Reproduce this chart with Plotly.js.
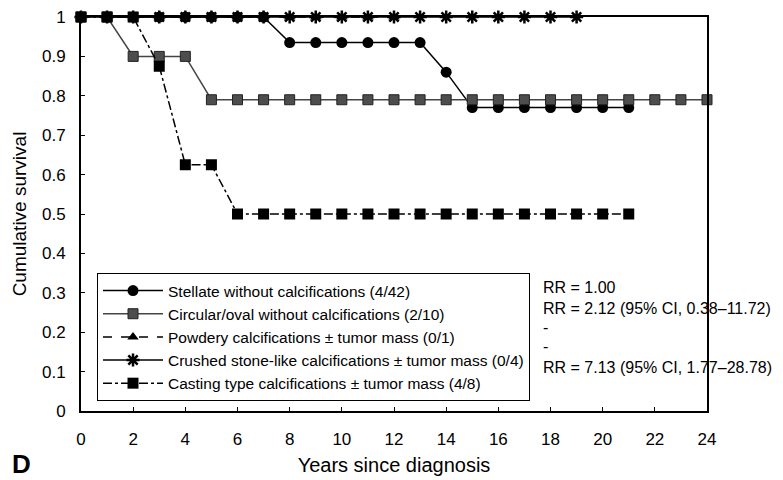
<!DOCTYPE html>
<html>
<head>
<meta charset="utf-8">
<script src="https://cdn.plot.ly/plotly-3.0.1.min.js"></script>
<style>html,body{margin:0;padding:0;background:#fff;}#chart{width:783px;height:480px;}</style>
</head>
<body>
<div id="chart"></div>
<script>
// ---- data ----
var seriesNames = [
  "Stellate without calcifications (4/42)",
  "Circular/oval without calcifications (2/10)",
  "Powdery calcifications \u00B1 tumor mass (0/1)",
  "Crushed stone-like calcifications \u00B1 tumor mass (0/4)",
  "Casting type calcifications \u00B1 tumor mass (4/8)"
];
var stellateYears = [0,1,2,3,4,5,6,7,8,9,10,11,12,13,14,15,16,17,18,19,20,21];
var stellateSurv  = [1,1,1,1,1,1,1,1,0.935,0.935,0.935,0.935,0.935,0.935,0.86,0.77,0.77,0.77,0.77,0.77,0.77,0.77];
var circularYears = [0,1,2,3,4,5,6,7,8,9,10,11,12,13,14,15,16,17,18,19,20,21,22,23,24];
var circularSurv  = [1,1,0.9,0.9,0.9,0.79,0.79,0.79,0.79,0.79,0.79,0.79,0.79,0.79,0.79,0.79,0.79,0.79,0.79,0.79,0.79,0.79,0.79,0.79,0.79];
var powderyYears  = [0,1,2,3,4,5,6,7,8,9,10,11,12];
var powderySurv   = [1,1,1,1,1,1,1,1,1,1,1,1,1];
var crushedYears  = [0,1,2,3,4,5,6,7,8,9,10,11,12,13,14,15,16,17,18,19];
var crushedSurv   = [1,1,1,1,1,1,1,1,1,1,1,1,1,1,1,1,1,1,1,1];
var castingYears  = [0,1,2,3,4,5,6,7,8,9,10,11,12,13,14,15,16,17,18,19,20,21];
var castingSurv   = [1,1,1,0.875,0.625,0.625,0.5,0.5,0.5,0.5,0.5,0.5,0.5,0.5,0.5,0.5,0.5,0.5,0.5,0.5,0.5,0.5];
var rrLabels = [
  "RR = 1.00",
  "RR = 2.12 (95% CI, 0.38\u201311.72)",
  "-",
  "-",
  "RR = 7.13 (95% CI, 1.77\u201328.78)"
];
var xTickVals = [0,2,4,6,8,10,12,14,16,18,20,22,24];
var yTickVals = [0,0.1,0.2,0.3,0.4,0.5,0.6,0.7,0.8,0.9,1];
var yTickText = ["0","0.1","0.2","0.3","0.4","0.5","0.6","0.7","0.8","0.9","1"];

// ---- traces ----
var FONT = "Liberation Sans, Arial, Helvetica, sans-serif";
var traces = [
  {x: powderyYears, y: powderySurv, name: seriesNames[2], legendrank: 3, mode: "lines+markers",
   line: {color: "#000", width: 1.5, dash: "dash"},
   marker: {symbol: "triangle-up", size: 10, color: "#000"}, cliponaxis: false},
  {x: stellateYears, y: stellateSurv, name: seriesNames[0], legendrank: 1, mode: "lines+markers",
   line: {color: "#000", width: 1.5},
   marker: {symbol: "circle", size: 11, color: "#000"}, cliponaxis: false},
  {x: crushedYears, y: crushedSurv, name: seriesNames[3], legendrank: 4, mode: "lines+markers",
   line: {color: "#000", width: 1.5},
   marker: {symbol: "asterisk-open", size: 11, color: "#000", line: {color: "#000", width: 2.5}}, cliponaxis: false},
  {x: circularYears, y: circularSurv, name: seriesNames[1], legendrank: 2, mode: "lines+markers",
   line: {color: "#444", width: 1.5},
   marker: {symbol: "square", size: 10, color: "#4d4d4d", line: {color: "#222", width: 1}}, cliponaxis: false},
  {x: castingYears, y: castingSurv, name: seriesNames[4], legendrank: 5, mode: "lines+markers",
   line: {color: "#000", width: 1.5, dash: "dashdot"},
   marker: {symbol: "square", size: 11, color: "#000"}, cliponaxis: false}
];

var rrY = [287, 308, 327, 346, 367];
var annotations = rrLabels.map(function (t, i) {
  return {text: t, xref: "paper", yref: "paper", x: (541 - 81) / 626, y: (411 - rrY[i]) / 394,
    xanchor: "left", yanchor: "middle", showarrow: false, font: {family: FONT, size: 16, color: "#000"}};
});
annotations.push({text: "<b>D</b>", xref: "paper", yref: "paper", x: (10 - 81) / 626, y: (411 - 464) / 394,
  xanchor: "left", yanchor: "middle", showarrow: false, font: {family: FONT, size: 26, color: "#000"}});

var layout = {
  width: 783, height: 480,
  margin: {l: 81, r: 76, t: 17, b: 69, pad: 0},
  paper_bgcolor: "#fff", plot_bgcolor: "#fff",
  font: {family: FONT, color: "#000"},
  showlegend: true,
  legend: {x: (97 - 81) / 626, y: (411 - 273) / 394, xanchor: "left", yanchor: "top",
    bgcolor: "#fff", bordercolor: "#000", borderwidth: 1,
    font: {family: FONT, size: 15.5, color: "#000"}, itemwidth: 60, tracegroupgap: 0},
  xaxis: {range: [0, 24], tickvals: xTickVals, ticks: "inside", ticklen: 4, tickcolor: "#000",
    showline: true, linecolor: "#000", linewidth: 2, mirror: true, showgrid: false, zeroline: false,
    tickfont: {family: FONT, size: 17}, ticklabelstandoff: 12,
    title: {text: "Years since diagnosis", font: {family: FONT, size: 20}, standoff: 10}},
  yaxis: {range: [0, 1], tickvals: yTickVals, ticktext: yTickText, ticks: "inside", ticklen: 4, tickcolor: "#000",
    showline: true, linecolor: "#000", linewidth: 2, mirror: true, showgrid: false, zeroline: false,
    tickfont: {family: FONT, size: 17}, ticklabelstandoff: 10,
    title: {text: "Cumulative survival", font: {family: FONT, size: 19}, standoff: 10}},
  annotations: annotations
};

Plotly.newPlot("chart", traces, layout, {displayModeBar: false, staticPlot: true});
</script>
</body>
</html>
